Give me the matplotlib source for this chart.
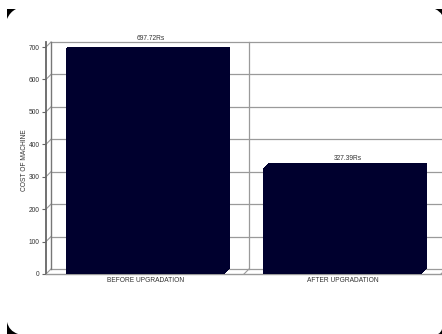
import matplotlib
matplotlib.use('Agg')
import matplotlib.pyplot as plt
from matplotlib.path import Path
from matplotlib.patches import PathPatch

# data
categories = ['BEFORE UPGRADATION', 'AFTER UPGRADATION']
costs = [697.72, 327.39]
value_labels = ['697.72Rs', '327.39Rs']
yticks = [0, 100, 200, 300, 400, 500, 600, 700]

plt.rcParams['font.family'] = ['Liberation Sans', 'DejaVu Sans']

W, H = 442, 334
fig = plt.figure(figsize=(W / 100, H / 100), dpi=100)
ax = fig.add_axes([46 / W, 60 / H, (470 - 46) / W, 227 / H])
xl, xr = -0.505, 1.647
ax.set_xlim(xl, xr)
ax.set_ylim(0, 700)

# 3d depth offset in data units (about 5px right, 5px up)
dxo = 5 / 197
dyo = 5 * 700 / 227
grid_c = '#9a9a9a'
navy = '#00002e'
bar_w = 0.807

# back wall gridlines + connectors to the front axis
for v in yticks:
    ax.plot([xl + dxo, xr], [v + dyo, v + dyo], color=grid_c, lw=0.9, zorder=1, clip_on=False)
    ax.plot([xl, xl + dxo], [v, v + dyo], color=grid_c, lw=0.8, zorder=1, clip_on=False)
# back wall left edge and category separators
ax.plot([xl + dxo, xl + dxo], [dyo, 700 + dyo], color='#777777', lw=1.0, zorder=1, clip_on=False)
for s in [0.5, 1.5]:
    ax.plot([s + dxo, s + dxo], [dyo, 700 + dyo], color=grid_c, lw=0.9, zorder=1, clip_on=False)
    ax.plot([s, s + dxo], [0, dyo], color=grid_c, lw=0.8, zorder=1, clip_on=False)

# bars, drawn as stacked offset copies to give a 3d column
steps = 6
for k in range(steps):
    f = k / (steps - 1)
    ax.bar([i + f * dxo for i in range(len(costs))], costs, width=bar_w,
           bottom=f * dyo, color=navy, edgecolor='none', zorder=3)

for i, (c, lab) in enumerate(zip(costs, value_labels)):
    ax.text(i + dxo, c + dyo + 3, lab, ha='center', va='bottom',
            fontsize=4.8, color='#333333', zorder=5)

# axes styling
for side in ['top', 'right']:
    ax.spines[side].set_visible(False)
ax.spines['left'].set_color('#666666')
ax.spines['left'].set_linewidth(1.3)
ax.spines['bottom'].set_color('#999999')
ax.spines['bottom'].set_linewidth(1.0)
ax.spines['left'].set_bounds(0, 700 + dyo)

ax.set_yticks(yticks)
ax.set_yticklabels([str(v) for v in yticks], fontsize=4.8, color='#333333')
ax.tick_params(axis='y', length=3, width=0.8, color='#666666', pad=1.5)
ax.set_xticks(range(len(categories)))
ax.set_xticklabels(categories, fontsize=4.8, color='#333333')
ax.tick_params(axis='x', length=0, pad=2.5)
ax.set_ylabel('COST OF MACHINE', fontsize=4.8, color='#333333', labelpad=0.5)
ax.patch.set_alpha(0)

# photo corner marks
def corner(pts):
    codes = [Path.MOVETO, Path.LINETO, Path.CURVE3, Path.CURVE3, Path.CLOSEPOLY]
    verts = [(x / W, 1 - y / H) for x, y in pts]
    fig.patches.append(PathPatch(Path(verts, codes), transform=fig.transFigure,
                                 color='black', lw=0))

corner([(7, 9), (16, 9), (10, 12), (7, 19), (7, 9)])
corner([(7, 334), (7, 322), (9, 331), (18, 334), (7, 334)])
corner([(442, 9), (442, 15), (440, 11), (435, 9), (442, 9)])
corner([(442, 334), (442, 329), (441, 333), (438, 334), (442, 334)])

fig.savefig('out.png', dpi=100)
